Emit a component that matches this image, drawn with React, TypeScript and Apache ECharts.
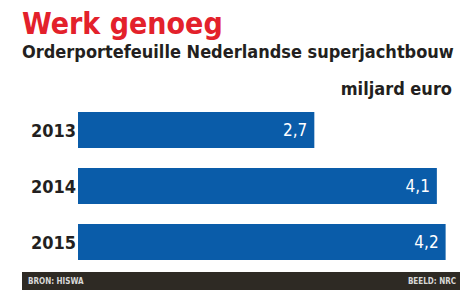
import React, { useEffect, useRef } from "react";
import * as echarts from "echarts";

const years = ["2013", "2014", "2015"];
const values = [2.7, 4.1, 4.2];
const title = "Werk genoeg";
const subtitle = "Orderportefeuille Nederlandse superjachtbouw";
const unit = "miljard euro";
const source = "BRON: HISWA";
const credit = "BEELD: NRC";

const FONT = "'Liberation Sans Narrow', 'DejaVu Sans Condensed', 'Liberation Sans', sans-serif";

export default function App() {
  const ref = useRef<HTMLDivElement>(null);
  useEffect(() => {
    if (!ref.current) return;
    const chart = echarts.init(ref.current, null, { renderer: "svg" });
    chart.setOption({
      animation: false,
      backgroundColor: "#ffffff",
      grid: { left: 78, right: 22, top: 102, bottom: 20, containLabel: false },
      xAxis: {
        type: "value",
        min: 0,
        max: 4.25,
        show: false,
      },
      yAxis: {
        type: "category",
        data: years,
        inverse: true,
        axisLine: { show: false },
        axisTick: { show: false },
        axisLabel: {
          color: "#231f20",
          fontFamily: FONT,
          fontWeight: "bold",
          fontSize: 18,
          margin: 2,
        },
      },
      series: [
        {
          type: "bar",
          data: values,
          barWidth: 36,
          itemStyle: { color: "#0a5ca9" },
          label: {
            show: true,
            position: "insideRight",
            offset: [-2, 0],
            color: "#ffffff",
            fontFamily: FONT,
            fontSize: 17,
            formatter: (p: any) => String(p.value).replace(".", ","),
          },
        },
      ],
      graphic: [
        {
          type: "text",
          left: 22,
          top: 7,
          style: {
            text: title,
            fill: "#e3212b",
            fontFamily: FONT,
            fontWeight: 900,
            fontSize: 30,
            lineHeight: 33,
          },
        },
        {
          type: "text",
          left: 22,
          top: 41,
          style: {
            text: subtitle,
            fill: "#231f20",
            fontFamily: FONT,
            fontWeight: "bold",
            fontSize: 18,
            lineHeight: 20,
          },
        },
        {
          type: "text",
          right: 20,
          top: 79,
          style: {
            text: unit,
            fill: "#231f20",
            fontFamily: FONT,
            fontWeight: "bold",
            fontSize: 18,
          },
        },
        {
          type: "rect",
          left: 22,
          top: 272,
          shape: { width: 438, height: 18 },
          style: { fill: "#2e2a24" },
        },
        {
          type: "text",
          left: 28,
          top: 277,
          style: {
            text: source,
            fill: "#d8d8d8",
            fontFamily: FONT,
            fontWeight: "bold",
            fontSize: 8,
          },
        },
        {
          type: "text",
          right: 16,
          top: 277,
          style: {
            text: credit,
            fill: "#d8d8d8",
            fontFamily: FONT,
            fontWeight: "bold",
            fontSize: 8,
          },
        },
      ],
    });
    return () => chart.dispose();
  }, []);
  return (
    <div
      ref={ref}
      style={{ position: "fixed", left: 0, top: 0, width: 472, height: 290 }}
    />
  );
}
